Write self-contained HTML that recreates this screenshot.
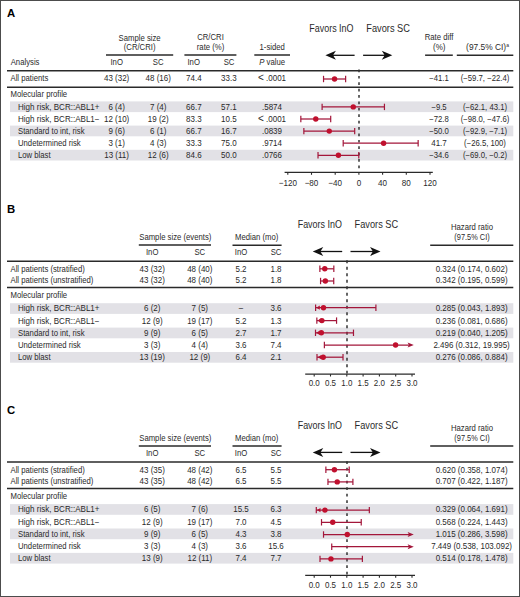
<!DOCTYPE html>
<html><head><meta charset="utf-8"><title>Forest plots</title>
<style>
html,body{margin:0;padding:0;background:#fff;}
.wrap{position:relative;width:520px;height:597px;overflow:hidden;}
svg{position:absolute;left:0;top:0;display:block;font-family:"Liberation Sans", sans-serif;}
.frame{position:absolute;left:0;top:0;width:518px;height:595px;border:1px solid #4c4c4c;}
</style></head><body>
<div class="wrap">
<svg width="520" height="597" viewBox="0 0 520 597">
<text transform="translate(7,16.6) scale(0.97,1)" font-size="11.7" text-anchor="start" font-weight="bold" fill="#000">A</text>
<text transform="translate(139.6,40.5) scale(0.921,1)" font-size="8.4" text-anchor="middle" font-weight="normal" fill="#2a2a2a">Sample size</text>
<text transform="translate(139.6,49.5) scale(0.921,1)" font-size="8.4" text-anchor="middle" font-weight="normal" fill="#2a2a2a">(CR/CRI)</text>
<line x1="106" y1="55" x2="173.2" y2="55" stroke="#2a2a2a" stroke-width="1.5"/>
<text transform="translate(210.5,40.3) scale(0.921,1)" font-size="8.4" text-anchor="middle" font-weight="normal" fill="#2a2a2a">CR/CRI</text>
<text transform="translate(210.5,50) scale(0.921,1)" font-size="8.4" text-anchor="middle" font-weight="normal" fill="#2a2a2a">rate (%)</text>
<line x1="184.4" y1="55" x2="236.4" y2="55" stroke="#2a2a2a" stroke-width="1.5"/>
<text transform="translate(272.2,50) scale(0.921,1)" font-size="8.4" text-anchor="middle" font-weight="normal" fill="#2a2a2a">1-sided</text>
<line x1="254.3" y1="55" x2="290" y2="55" stroke="#2a2a2a" stroke-width="1.5"/>
<text transform="translate(272.2,64.5) scale(0.921,1)" font-size="8.4" text-anchor="middle" font-weight="normal" fill="#2a2a2a"><tspan font-style="italic">P</tspan> value</text>
<text transform="translate(309.3,31.7) scale(0.895,1)" font-size="10" text-anchor="start" font-weight="normal" fill="#2a2a2a">Favors InO</text>
<text transform="translate(366.3,31.7) scale(0.925,1)" font-size="10" text-anchor="start" font-weight="normal" fill="#2a2a2a">Favors SC</text>
<line x1="329.4" y1="55.3" x2="354.6" y2="55.3" stroke="#111" stroke-width="1.3"/>
<path d="M325.4,55.3 L335.9,50.8 L333.0,55.3 L335.9,59.8 Z" fill="#111"/>
<line x1="363.1" y1="55.3" x2="388.3" y2="55.3" stroke="#111" stroke-width="1.3"/>
<path d="M392.3,55.3 L381.8,50.8 L384.7,55.3 L381.8,59.8 Z" fill="#111"/>
<text transform="translate(439,40.1) scale(0.921,1)" font-size="8.4" text-anchor="middle" font-weight="normal" fill="#2a2a2a">Rate diff</text>
<text transform="translate(439.3,49.6) scale(0.952,1)" font-size="8.4" text-anchor="middle" font-weight="normal" fill="#2a2a2a">(%)</text>
<line x1="425.1" y1="55.2" x2="452.8" y2="55.2" stroke="#2a2a2a" stroke-width="1.5"/>
<text transform="translate(487.5,49.6) scale(1.0,1)" font-size="8.4" text-anchor="middle" font-weight="normal" fill="#2a2a2a">(97.5% CI)<tspan font-size="5" dy="-3">a</tspan></text>
<line x1="456.8" y1="55.2" x2="513.3" y2="55.2" stroke="#2a2a2a" stroke-width="1.5"/>
<text transform="translate(10.7,65) scale(0.921,1)" font-size="8.4" text-anchor="start" font-weight="normal" fill="#2a2a2a">Analysis</text>
<text transform="translate(116.7,65) scale(0.921,1)" font-size="8.4" text-anchor="middle" font-weight="normal" fill="#2a2a2a">InO</text>
<text transform="translate(158.2,65) scale(0.921,1)" font-size="8.4" text-anchor="middle" font-weight="normal" fill="#2a2a2a">SC</text>
<text transform="translate(193.7,65) scale(0.921,1)" font-size="8.4" text-anchor="middle" font-weight="normal" fill="#2a2a2a">InO</text>
<text transform="translate(229,65) scale(0.921,1)" font-size="8.4" text-anchor="middle" font-weight="normal" fill="#2a2a2a">SC</text>
<line x1="7" y1="70.75" x2="513.3" y2="70.75" stroke="#2a2a2a" stroke-width="1.5"/>
<text transform="translate(10.5,81.3) scale(0.921,1)" font-size="8.4" text-anchor="start" font-weight="normal" fill="#2a2a2a">All patients</text>
<text transform="translate(116.6,81.3) scale(0.952,1)" font-size="8.4" text-anchor="middle" font-weight="normal" fill="#2a2a2a">43 (32)</text>
<text transform="translate(158.2,81.3) scale(0.952,1)" font-size="8.4" text-anchor="middle" font-weight="normal" fill="#2a2a2a">48 (16)</text>
<text transform="translate(193.8,81.3) scale(0.952,1)" font-size="8.4" text-anchor="middle" font-weight="normal" fill="#2a2a2a">74.4</text>
<text transform="translate(228.8,81.3) scale(0.952,1)" font-size="8.4" text-anchor="middle" font-weight="normal" fill="#2a2a2a">33.3</text>
<text transform="translate(272,81.3) scale(0.952,1)" font-size="8.4" text-anchor="middle" font-weight="normal" fill="#2a2a2a"><tspan font-size="10.5">&lt;</tspan> .0001</text>
<text transform="translate(439,81.3) scale(0.921,1)" font-size="8.4" text-anchor="middle" font-weight="normal" fill="#2a2a2a">−41.1</text>
<text transform="translate(485,81.3) scale(0.921,1)" font-size="8.4" text-anchor="middle" font-weight="normal" fill="#2a2a2a">(−59.7, −22.4)</text>
<line x1="7" y1="87.25" x2="513.3" y2="87.25" stroke="#2a2a2a" stroke-width="1.5"/>
<text transform="translate(10.5,96.5) scale(0.921,1)" font-size="8.4" text-anchor="start" font-weight="normal" fill="#2a2a2a">Molecular profile</text>
<rect x="10" y="101.4" width="503.3" height="10.7" fill="#e2e1e6"/>
<rect x="10" y="125.60000000000001" width="503.3" height="10.7" fill="#e2e1e6"/>
<rect x="10" y="149.8" width="503.3" height="10.7" fill="#e2e1e6"/>
<text transform="translate(18,109.9) scale(0.957,1)" font-size="8.4" text-anchor="start" font-weight="normal" fill="#2a2a2a">High risk, BCR::ABL1+</text>
<text transform="translate(116.6,109.9) scale(0.952,1)" font-size="8.4" text-anchor="middle" font-weight="normal" fill="#2a2a2a">6 (4)</text>
<text transform="translate(158.2,109.9) scale(0.952,1)" font-size="8.4" text-anchor="middle" font-weight="normal" fill="#2a2a2a">7 (4)</text>
<text transform="translate(193.8,109.9) scale(0.952,1)" font-size="8.4" text-anchor="middle" font-weight="normal" fill="#2a2a2a">66.7</text>
<text transform="translate(228.8,109.9) scale(0.952,1)" font-size="8.4" text-anchor="middle" font-weight="normal" fill="#2a2a2a">57.1</text>
<text transform="translate(272,109.9) scale(0.952,1)" font-size="8.4" text-anchor="middle" font-weight="normal" fill="#2a2a2a">.5874</text>
<text transform="translate(439,109.9) scale(0.921,1)" font-size="8.4" text-anchor="middle" font-weight="normal" fill="#2a2a2a">−9.5</text>
<text transform="translate(485,109.9) scale(0.921,1)" font-size="8.4" text-anchor="middle" font-weight="normal" fill="#2a2a2a">(−62.1, 43.1)</text>
<text transform="translate(18,122.0) scale(0.957,1)" font-size="8.4" text-anchor="start" font-weight="normal" fill="#2a2a2a">High risk, BCR::ABL1−</text>
<text transform="translate(116.6,122.0) scale(0.952,1)" font-size="8.4" text-anchor="middle" font-weight="normal" fill="#2a2a2a">12 (10)</text>
<text transform="translate(158.2,122.0) scale(0.952,1)" font-size="8.4" text-anchor="middle" font-weight="normal" fill="#2a2a2a">19 (2)</text>
<text transform="translate(193.8,122.0) scale(0.952,1)" font-size="8.4" text-anchor="middle" font-weight="normal" fill="#2a2a2a">83.3</text>
<text transform="translate(228.8,122.0) scale(0.952,1)" font-size="8.4" text-anchor="middle" font-weight="normal" fill="#2a2a2a">10.5</text>
<text transform="translate(272,122.0) scale(0.952,1)" font-size="8.4" text-anchor="middle" font-weight="normal" fill="#2a2a2a"><tspan font-size="10.5">&lt;</tspan> .0001</text>
<text transform="translate(439,122.0) scale(0.921,1)" font-size="8.4" text-anchor="middle" font-weight="normal" fill="#2a2a2a">−72.8</text>
<text transform="translate(485,122.0) scale(0.921,1)" font-size="8.4" text-anchor="middle" font-weight="normal" fill="#2a2a2a">(−98.0, −47.6)</text>
<text transform="translate(18,134.1) scale(0.921,1)" font-size="8.4" text-anchor="start" font-weight="normal" fill="#2a2a2a">Standard to int, risk</text>
<text transform="translate(116.6,134.1) scale(0.952,1)" font-size="8.4" text-anchor="middle" font-weight="normal" fill="#2a2a2a">9 (6)</text>
<text transform="translate(158.2,134.1) scale(0.952,1)" font-size="8.4" text-anchor="middle" font-weight="normal" fill="#2a2a2a">6 (1)</text>
<text transform="translate(193.8,134.1) scale(0.952,1)" font-size="8.4" text-anchor="middle" font-weight="normal" fill="#2a2a2a">66.7</text>
<text transform="translate(228.8,134.1) scale(0.952,1)" font-size="8.4" text-anchor="middle" font-weight="normal" fill="#2a2a2a">16.7</text>
<text transform="translate(272,134.1) scale(0.952,1)" font-size="8.4" text-anchor="middle" font-weight="normal" fill="#2a2a2a">.0839</text>
<text transform="translate(439,134.1) scale(0.921,1)" font-size="8.4" text-anchor="middle" font-weight="normal" fill="#2a2a2a">−50.0</text>
<text transform="translate(485,134.1) scale(0.921,1)" font-size="8.4" text-anchor="middle" font-weight="normal" fill="#2a2a2a">(−92.9, −7.1)</text>
<text transform="translate(18,146.2) scale(0.921,1)" font-size="8.4" text-anchor="start" font-weight="normal" fill="#2a2a2a">Undetermined risk</text>
<text transform="translate(116.6,146.2) scale(0.952,1)" font-size="8.4" text-anchor="middle" font-weight="normal" fill="#2a2a2a">3 (1)</text>
<text transform="translate(158.2,146.2) scale(0.952,1)" font-size="8.4" text-anchor="middle" font-weight="normal" fill="#2a2a2a">4 (3)</text>
<text transform="translate(193.8,146.2) scale(0.952,1)" font-size="8.4" text-anchor="middle" font-weight="normal" fill="#2a2a2a">33.3</text>
<text transform="translate(228.8,146.2) scale(0.952,1)" font-size="8.4" text-anchor="middle" font-weight="normal" fill="#2a2a2a">75.0</text>
<text transform="translate(272,146.2) scale(0.952,1)" font-size="8.4" text-anchor="middle" font-weight="normal" fill="#2a2a2a">.9714</text>
<text transform="translate(439,146.2) scale(0.952,1)" font-size="8.4" text-anchor="middle" font-weight="normal" fill="#2a2a2a">41.7</text>
<text transform="translate(485,146.2) scale(0.921,1)" font-size="8.4" text-anchor="middle" font-weight="normal" fill="#2a2a2a">(−26.5, 100)</text>
<text transform="translate(18,158.3) scale(0.921,1)" font-size="8.4" text-anchor="start" font-weight="normal" fill="#2a2a2a">Low blast</text>
<text transform="translate(116.6,158.3) scale(0.952,1)" font-size="8.4" text-anchor="middle" font-weight="normal" fill="#2a2a2a">13 (11)</text>
<text transform="translate(158.2,158.3) scale(0.952,1)" font-size="8.4" text-anchor="middle" font-weight="normal" fill="#2a2a2a">12 (6)</text>
<text transform="translate(193.8,158.3) scale(0.952,1)" font-size="8.4" text-anchor="middle" font-weight="normal" fill="#2a2a2a">84.6</text>
<text transform="translate(228.8,158.3) scale(0.952,1)" font-size="8.4" text-anchor="middle" font-weight="normal" fill="#2a2a2a">50.0</text>
<text transform="translate(272,158.3) scale(0.952,1)" font-size="8.4" text-anchor="middle" font-weight="normal" fill="#2a2a2a">.0766</text>
<text transform="translate(439,158.3) scale(0.921,1)" font-size="8.4" text-anchor="middle" font-weight="normal" fill="#2a2a2a">−34.6</text>
<text transform="translate(485,158.3) scale(0.921,1)" font-size="8.4" text-anchor="middle" font-weight="normal" fill="#2a2a2a">(−69.0, −0.2)</text>
<line x1="359.0" y1="69.5" x2="359.0" y2="172" stroke="#333" stroke-width="1.5" stroke-dasharray="2.7,3.7"/>
<line x1="323.53" y1="79" x2="345.63" y2="79" stroke="#a3163a" stroke-width="1.25"/>
<line x1="323.53" y1="75.8" x2="323.53" y2="82.2" stroke="#a3163a" stroke-width="1.2"/>
<line x1="345.63" y1="75.8" x2="345.63" y2="82.2" stroke="#a3163a" stroke-width="1.2"/>
<circle cx="334.55" cy="79.00" r="2.7" fill="#c0102e"/>
<line x1="322.11" y1="106.9" x2="384.44" y2="106.9" stroke="#a3163a" stroke-width="1.25"/>
<line x1="322.11" y1="103.7" x2="322.11" y2="110.10000000000001" stroke="#a3163a" stroke-width="1.2"/>
<line x1="384.44" y1="103.7" x2="384.44" y2="110.10000000000001" stroke="#a3163a" stroke-width="1.2"/>
<circle cx="353.27" cy="106.90" r="2.7" fill="#c0102e"/>
<line x1="300.83" y1="119.0" x2="330.70" y2="119.0" stroke="#a3163a" stroke-width="1.25"/>
<line x1="300.83" y1="115.8" x2="300.83" y2="122.2" stroke="#a3163a" stroke-width="1.2"/>
<line x1="330.70" y1="115.8" x2="330.70" y2="122.2" stroke="#a3163a" stroke-width="1.2"/>
<circle cx="315.77" cy="119.00" r="2.7" fill="#c0102e"/>
<line x1="303.86" y1="131.1" x2="354.69" y2="131.1" stroke="#a3163a" stroke-width="1.25"/>
<line x1="303.86" y1="127.89999999999999" x2="303.86" y2="134.29999999999998" stroke="#a3163a" stroke-width="1.2"/>
<line x1="354.69" y1="127.89999999999999" x2="354.69" y2="134.29999999999998" stroke="#a3163a" stroke-width="1.2"/>
<circle cx="329.27" cy="131.10" r="2.7" fill="#c0102e"/>
<line x1="343.20" y1="143.2" x2="418.15" y2="143.2" stroke="#a3163a" stroke-width="1.25"/>
<line x1="343.20" y1="140.0" x2="343.20" y2="146.39999999999998" stroke="#a3163a" stroke-width="1.2"/>
<line x1="418.15" y1="140.0" x2="418.15" y2="146.39999999999998" stroke="#a3163a" stroke-width="1.2"/>
<circle cx="383.61" cy="143.20" r="2.7" fill="#c0102e"/>
<line x1="318.02" y1="155.3" x2="358.78" y2="155.3" stroke="#a3163a" stroke-width="1.25"/>
<line x1="318.02" y1="152.10000000000002" x2="318.02" y2="158.5" stroke="#a3163a" stroke-width="1.2"/>
<line x1="358.78" y1="152.10000000000002" x2="358.78" y2="158.5" stroke="#a3163a" stroke-width="1.2"/>
<circle cx="338.40" cy="155.30" r="2.7" fill="#c0102e"/>
<line x1="284.6" y1="172.4" x2="432.8" y2="172.4" stroke="#2a2a2a" stroke-width="1.2"/>
<line x1="287.80" y1="172.4" x2="287.80" y2="174.8" stroke="#2a2a2a" stroke-width="1.1"/>
<text transform="translate(287.80,185.6) scale(0.9,1)" font-size="9" text-anchor="middle" font-weight="normal" fill="#2a2a2a">−120</text>
<line x1="311.50" y1="172.4" x2="311.50" y2="174.8" stroke="#2a2a2a" stroke-width="1.1"/>
<text transform="translate(311.50,185.6) scale(0.9,1)" font-size="9" text-anchor="middle" font-weight="normal" fill="#2a2a2a">−80</text>
<line x1="335.20" y1="172.4" x2="335.20" y2="174.8" stroke="#2a2a2a" stroke-width="1.1"/>
<text transform="translate(335.20,185.6) scale(0.9,1)" font-size="9" text-anchor="middle" font-weight="normal" fill="#2a2a2a">−40</text>
<line x1="358.90" y1="172.4" x2="358.90" y2="174.8" stroke="#2a2a2a" stroke-width="1.1"/>
<text transform="translate(358.90,185.6) scale(0.9,1)" font-size="9" text-anchor="middle" font-weight="normal" fill="#2a2a2a">0</text>
<line x1="382.60" y1="172.4" x2="382.60" y2="174.8" stroke="#2a2a2a" stroke-width="1.1"/>
<text transform="translate(382.60,185.6) scale(0.9,1)" font-size="9" text-anchor="middle" font-weight="normal" fill="#2a2a2a">40</text>
<line x1="406.30" y1="172.4" x2="406.30" y2="174.8" stroke="#2a2a2a" stroke-width="1.1"/>
<text transform="translate(406.30,185.6) scale(0.9,1)" font-size="9" text-anchor="middle" font-weight="normal" fill="#2a2a2a">80</text>
<line x1="430.00" y1="172.4" x2="430.00" y2="174.8" stroke="#2a2a2a" stroke-width="1.1"/>
<text transform="translate(430.00,185.6) scale(0.9,1)" font-size="9" text-anchor="middle" font-weight="normal" fill="#2a2a2a">120</text>
<text transform="translate(7,213.2) scale(0.97,1)" font-size="11.7" text-anchor="start" font-weight="bold" fill="#000">B</text>
<text transform="translate(175.3,240.0) scale(0.921,1)" font-size="8.4" text-anchor="middle" font-weight="normal" fill="#2a2a2a">Sample size (events)</text>
<line x1="138.8" y1="245.1" x2="211" y2="245.1" stroke="#2a2a2a" stroke-width="1.5"/>
<text transform="translate(256.7,240.3) scale(0.921,1)" font-size="8.4" text-anchor="middle" font-weight="normal" fill="#2a2a2a">Median (mo)</text>
<line x1="232.5" y1="245.2" x2="281.6" y2="245.2" stroke="#2a2a2a" stroke-width="1.5"/>
<text transform="translate(297.7,227.7) scale(0.895,1)" font-size="10" text-anchor="start" font-weight="normal" fill="#2a2a2a">Favors InO</text>
<text transform="translate(354.5,227.7) scale(0.925,1)" font-size="10" text-anchor="start" font-weight="normal" fill="#2a2a2a">Favors SC</text>
<line x1="316.75" y1="251.5" x2="342.2" y2="251.5" stroke="#111" stroke-width="1.3"/>
<path d="M312.75,251.5 L323.25,247.0 L320.35,251.5 L323.25,256.0 Z" fill="#111"/>
<line x1="350.5" y1="251.5" x2="376.5" y2="251.5" stroke="#111" stroke-width="1.3"/>
<path d="M380.5,251.5 L370.0,247.0 L372.9,251.5 L370.0,256.0 Z" fill="#111"/>
<text transform="translate(472,229.6) scale(0.921,1)" font-size="8.4" text-anchor="middle" font-weight="normal" fill="#2a2a2a">Hazard ratio</text>
<text transform="translate(472,240.1) scale(0.88,1)" font-size="8.4" text-anchor="middle" font-weight="normal" fill="#2a2a2a">(97.5% CI)</text>
<line x1="430.2" y1="245.2" x2="513.3" y2="245.2" stroke="#2a2a2a" stroke-width="1.5"/>
<text transform="translate(152.2,255.1) scale(0.921,1)" font-size="8.4" text-anchor="middle" font-weight="normal" fill="#2a2a2a">InO</text>
<text transform="translate(199.8,255.1) scale(0.921,1)" font-size="8.4" text-anchor="middle" font-weight="normal" fill="#2a2a2a">SC</text>
<text transform="translate(241,255.1) scale(0.921,1)" font-size="8.4" text-anchor="middle" font-weight="normal" fill="#2a2a2a">InO</text>
<text transform="translate(276,255.1) scale(0.921,1)" font-size="8.4" text-anchor="middle" font-weight="normal" fill="#2a2a2a">SC</text>
<line x1="7" y1="261.2" x2="513.3" y2="261.2" stroke="#2a2a2a" stroke-width="1.5"/>
<text transform="translate(10.5,271.6) scale(0.921,1)" font-size="8.4" text-anchor="start" font-weight="normal" fill="#2a2a2a">All patients (stratified)</text>
<text transform="translate(152.2,271.6) scale(0.952,1)" font-size="8.4" text-anchor="middle" font-weight="normal" fill="#2a2a2a">43 (32)</text>
<text transform="translate(199.8,271.6) scale(0.952,1)" font-size="8.4" text-anchor="middle" font-weight="normal" fill="#2a2a2a">48 (40)</text>
<text transform="translate(241,271.6) scale(0.952,1)" font-size="8.4" text-anchor="middle" font-weight="normal" fill="#2a2a2a">5.2</text>
<text transform="translate(276,271.6) scale(0.952,1)" font-size="8.4" text-anchor="middle" font-weight="normal" fill="#2a2a2a">1.8</text>
<text transform="translate(471.6,271.6) scale(0.952,1)" font-size="8.4" text-anchor="middle" font-weight="normal" fill="#2a2a2a">0.324 (0.174, 0.602)</text>
<text transform="translate(10.5,283.3) scale(0.921,1)" font-size="8.4" text-anchor="start" font-weight="normal" fill="#2a2a2a">All patients (unstratified)</text>
<text transform="translate(152.2,283.3) scale(0.952,1)" font-size="8.4" text-anchor="middle" font-weight="normal" fill="#2a2a2a">43 (32)</text>
<text transform="translate(199.8,283.3) scale(0.952,1)" font-size="8.4" text-anchor="middle" font-weight="normal" fill="#2a2a2a">48 (40)</text>
<text transform="translate(241,283.3) scale(0.952,1)" font-size="8.4" text-anchor="middle" font-weight="normal" fill="#2a2a2a">5.2</text>
<text transform="translate(276,283.3) scale(0.952,1)" font-size="8.4" text-anchor="middle" font-weight="normal" fill="#2a2a2a">1.8</text>
<text transform="translate(471.6,283.3) scale(0.952,1)" font-size="8.4" text-anchor="middle" font-weight="normal" fill="#2a2a2a">0.342 (0.195, 0.599)</text>
<line x1="7" y1="287.5" x2="513.3" y2="287.5" stroke="#2a2a2a" stroke-width="1.5"/>
<text transform="translate(10.5,298.4) scale(0.921,1)" font-size="8.4" text-anchor="start" font-weight="normal" fill="#2a2a2a">Molecular profile</text>
<rect x="10" y="303.2" width="503.3" height="10.7" fill="#e2e1e6"/>
<rect x="10" y="327.59999999999997" width="503.3" height="10.7" fill="#e2e1e6"/>
<rect x="10" y="352.0" width="503.3" height="10.7" fill="#e2e1e6"/>
<text transform="translate(18,311.4) scale(0.957,1)" font-size="8.4" text-anchor="start" font-weight="normal" fill="#2a2a2a">High risk, BCR::ABL1+</text>
<text transform="translate(152.2,311.4) scale(0.952,1)" font-size="8.4" text-anchor="middle" font-weight="normal" fill="#2a2a2a">6 (2)</text>
<text transform="translate(199.8,311.4) scale(0.952,1)" font-size="8.4" text-anchor="middle" font-weight="normal" fill="#2a2a2a">7 (5)</text>
<text transform="translate(241,311.4) scale(0.921,1)" font-size="8.4" text-anchor="middle" font-weight="normal" fill="#2a2a2a">–</text>
<text transform="translate(276,311.4) scale(0.952,1)" font-size="8.4" text-anchor="middle" font-weight="normal" fill="#2a2a2a">3.6</text>
<text transform="translate(471.6,311.4) scale(0.952,1)" font-size="8.4" text-anchor="middle" font-weight="normal" fill="#2a2a2a">0.285 (0.043, 1.893)</text>
<text transform="translate(18,323.59999999999997) scale(0.957,1)" font-size="8.4" text-anchor="start" font-weight="normal" fill="#2a2a2a">High risk, BCR::ABL1−</text>
<text transform="translate(152.2,323.59999999999997) scale(0.952,1)" font-size="8.4" text-anchor="middle" font-weight="normal" fill="#2a2a2a">12 (9)</text>
<text transform="translate(199.8,323.59999999999997) scale(0.952,1)" font-size="8.4" text-anchor="middle" font-weight="normal" fill="#2a2a2a">19 (17)</text>
<text transform="translate(241,323.59999999999997) scale(0.952,1)" font-size="8.4" text-anchor="middle" font-weight="normal" fill="#2a2a2a">5.2</text>
<text transform="translate(276,323.59999999999997) scale(0.952,1)" font-size="8.4" text-anchor="middle" font-weight="normal" fill="#2a2a2a">1.3</text>
<text transform="translate(471.6,323.59999999999997) scale(0.952,1)" font-size="8.4" text-anchor="middle" font-weight="normal" fill="#2a2a2a">0.236 (0.081, 0.686)</text>
<text transform="translate(18,335.79999999999995) scale(0.921,1)" font-size="8.4" text-anchor="start" font-weight="normal" fill="#2a2a2a">Standard to int, risk</text>
<text transform="translate(152.2,335.79999999999995) scale(0.952,1)" font-size="8.4" text-anchor="middle" font-weight="normal" fill="#2a2a2a">9 (9)</text>
<text transform="translate(199.8,335.79999999999995) scale(0.952,1)" font-size="8.4" text-anchor="middle" font-weight="normal" fill="#2a2a2a">6 (5)</text>
<text transform="translate(241,335.79999999999995) scale(0.952,1)" font-size="8.4" text-anchor="middle" font-weight="normal" fill="#2a2a2a">2.7</text>
<text transform="translate(276,335.79999999999995) scale(0.952,1)" font-size="8.4" text-anchor="middle" font-weight="normal" fill="#2a2a2a">1.7</text>
<text transform="translate(471.6,335.79999999999995) scale(0.952,1)" font-size="8.4" text-anchor="middle" font-weight="normal" fill="#2a2a2a">0.219 (0.040, 1.205)</text>
<text transform="translate(18,348.0) scale(0.921,1)" font-size="8.4" text-anchor="start" font-weight="normal" fill="#2a2a2a">Undetermined risk</text>
<text transform="translate(152.2,348.0) scale(0.952,1)" font-size="8.4" text-anchor="middle" font-weight="normal" fill="#2a2a2a">3 (3)</text>
<text transform="translate(199.8,348.0) scale(0.952,1)" font-size="8.4" text-anchor="middle" font-weight="normal" fill="#2a2a2a">4 (4)</text>
<text transform="translate(241,348.0) scale(0.952,1)" font-size="8.4" text-anchor="middle" font-weight="normal" fill="#2a2a2a">3.6</text>
<text transform="translate(276,348.0) scale(0.952,1)" font-size="8.4" text-anchor="middle" font-weight="normal" fill="#2a2a2a">7.4</text>
<text transform="translate(471.6,348.0) scale(0.952,1)" font-size="8.4" text-anchor="middle" font-weight="normal" fill="#2a2a2a">2.496 (0.312, 19.995)</text>
<text transform="translate(18,360.2) scale(0.921,1)" font-size="8.4" text-anchor="start" font-weight="normal" fill="#2a2a2a">Low blast</text>
<text transform="translate(152.2,360.2) scale(0.952,1)" font-size="8.4" text-anchor="middle" font-weight="normal" fill="#2a2a2a">13 (19)</text>
<text transform="translate(199.8,360.2) scale(0.952,1)" font-size="8.4" text-anchor="middle" font-weight="normal" fill="#2a2a2a">12 (9)</text>
<text transform="translate(241,360.2) scale(0.952,1)" font-size="8.4" text-anchor="middle" font-weight="normal" fill="#2a2a2a">6.4</text>
<text transform="translate(276,360.2) scale(0.952,1)" font-size="8.4" text-anchor="middle" font-weight="normal" fill="#2a2a2a">2.1</text>
<text transform="translate(471.6,360.2) scale(0.952,1)" font-size="8.4" text-anchor="middle" font-weight="normal" fill="#2a2a2a">0.276 (0.086, 0.884)</text>
<line x1="347.0" y1="260.3" x2="347.0" y2="373.5" stroke="#333" stroke-width="1.5" stroke-dasharray="2.9,3.6"/>
<line x1="319.87" y1="268.8" x2="333.83" y2="268.8" stroke="#a3163a" stroke-width="1.25"/>
<line x1="319.87" y1="265.6" x2="319.87" y2="272.0" stroke="#a3163a" stroke-width="1.2"/>
<line x1="333.83" y1="265.6" x2="333.83" y2="272.0" stroke="#a3163a" stroke-width="1.2"/>
<circle cx="324.76" cy="268.80" r="2.7" fill="#c0102e"/>
<line x1="320.56" y1="281.0" x2="333.73" y2="281.0" stroke="#a3163a" stroke-width="1.25"/>
<line x1="320.56" y1="277.8" x2="320.56" y2="284.2" stroke="#a3163a" stroke-width="1.2"/>
<line x1="333.73" y1="277.8" x2="333.73" y2="284.2" stroke="#a3163a" stroke-width="1.2"/>
<circle cx="325.35" cy="281.00" r="2.7" fill="#c0102e"/>
<path d="M316.20,307.7 L319.80,305.59999999999997 L319.80,309.8 Z" fill="#c0102e"/>
<line x1="315.60" y1="307.7" x2="375.91" y2="307.7" stroke="#a3163a" stroke-width="1.25"/>
<line x1="315.60" y1="304.5" x2="315.60" y2="310.9" stroke="#a3163a" stroke-width="1.2"/>
<line x1="375.91" y1="304.5" x2="375.91" y2="310.9" stroke="#a3163a" stroke-width="1.2"/>
<circle cx="323.49" cy="307.70" r="2.7" fill="#c0102e"/>
<path d="M317.44,320.59999999999997 L321.04,318.49999999999994 L321.04,322.7 Z" fill="#c0102e"/>
<line x1="316.84" y1="320.59999999999997" x2="336.56" y2="320.59999999999997" stroke="#a3163a" stroke-width="1.25"/>
<line x1="316.84" y1="317.4" x2="316.84" y2="323.79999999999995" stroke="#a3163a" stroke-width="1.2"/>
<line x1="336.56" y1="317.4" x2="336.56" y2="323.79999999999995" stroke="#a3163a" stroke-width="1.2"/>
<circle cx="321.89" cy="320.60" r="2.7" fill="#c0102e"/>
<path d="M316.10,332.79999999999995 L319.70,330.69999999999993 L319.70,334.9 Z" fill="#c0102e"/>
<line x1="315.50" y1="332.79999999999995" x2="353.48" y2="332.79999999999995" stroke="#a3163a" stroke-width="1.25"/>
<line x1="315.50" y1="329.59999999999997" x2="315.50" y2="335.99999999999994" stroke="#a3163a" stroke-width="1.2"/>
<line x1="353.48" y1="329.59999999999997" x2="353.48" y2="335.99999999999994" stroke="#a3163a" stroke-width="1.2"/>
<circle cx="321.34" cy="332.80" r="2.7" fill="#c0102e"/>
<line x1="324.37" y1="345.0" x2="410.80" y2="345.0" stroke="#a3163a" stroke-width="1.25"/>
<line x1="324.37" y1="341.8" x2="324.37" y2="348.2" stroke="#a3163a" stroke-width="1.2"/>
<path d="M413.80,345.0 L407.60,342.5 L409.00,345.0 L407.60,347.5 Z" fill="#a3163a"/>
<circle cx="395.57" cy="345.00" r="2.7" fill="#c0102e"/>
<path d="M317.60,357.2 L321.20,355.09999999999997 L321.20,359.3 Z" fill="#c0102e"/>
<line x1="317.00" y1="357.2" x2="343.02" y2="357.2" stroke="#a3163a" stroke-width="1.25"/>
<line x1="317.00" y1="354.0" x2="317.00" y2="360.4" stroke="#a3163a" stroke-width="1.2"/>
<line x1="343.02" y1="354.0" x2="343.02" y2="360.4" stroke="#a3163a" stroke-width="1.2"/>
<circle cx="323.20" cy="357.20" r="2.7" fill="#c0102e"/>
<line x1="305.2" y1="374.2" x2="415" y2="374.2" stroke="#2a2a2a" stroke-width="1.2"/>
<line x1="314.20" y1="374.2" x2="314.20" y2="376.5" stroke="#2a2a2a" stroke-width="1.1"/>
<text transform="translate(314.20,386.4) scale(0.952,1)" font-size="8.4" text-anchor="middle" font-weight="normal" fill="#2a2a2a">0.0</text>
<line x1="330.50" y1="374.2" x2="330.50" y2="376.5" stroke="#2a2a2a" stroke-width="1.1"/>
<text transform="translate(330.50,386.4) scale(0.952,1)" font-size="8.4" text-anchor="middle" font-weight="normal" fill="#2a2a2a">0.5</text>
<line x1="346.80" y1="374.2" x2="346.80" y2="376.5" stroke="#2a2a2a" stroke-width="1.1"/>
<text transform="translate(346.80,386.4) scale(0.952,1)" font-size="8.4" text-anchor="middle" font-weight="normal" fill="#2a2a2a">1.0</text>
<line x1="363.10" y1="374.2" x2="363.10" y2="376.5" stroke="#2a2a2a" stroke-width="1.1"/>
<text transform="translate(363.10,386.4) scale(0.952,1)" font-size="8.4" text-anchor="middle" font-weight="normal" fill="#2a2a2a">1.5</text>
<line x1="379.40" y1="374.2" x2="379.40" y2="376.5" stroke="#2a2a2a" stroke-width="1.1"/>
<text transform="translate(379.40,386.4) scale(0.952,1)" font-size="8.4" text-anchor="middle" font-weight="normal" fill="#2a2a2a">2.0</text>
<line x1="395.70" y1="374.2" x2="395.70" y2="376.5" stroke="#2a2a2a" stroke-width="1.1"/>
<text transform="translate(395.70,386.4) scale(0.952,1)" font-size="8.4" text-anchor="middle" font-weight="normal" fill="#2a2a2a">2.5</text>
<line x1="412.00" y1="374.2" x2="412.00" y2="376.5" stroke="#2a2a2a" stroke-width="1.1"/>
<text transform="translate(412.00,386.4) scale(0.952,1)" font-size="8.4" text-anchor="middle" font-weight="normal" fill="#2a2a2a">3.0</text>
<text transform="translate(7,414.1) scale(0.97,1)" font-size="11.7" text-anchor="start" font-weight="bold" fill="#000">C</text>
<text transform="translate(175.3,440.9) scale(0.921,1)" font-size="8.4" text-anchor="middle" font-weight="normal" fill="#2a2a2a">Sample size (events)</text>
<line x1="138.8" y1="446.0" x2="211" y2="446.0" stroke="#2a2a2a" stroke-width="1.5"/>
<text transform="translate(256.7,441.20000000000005) scale(0.921,1)" font-size="8.4" text-anchor="middle" font-weight="normal" fill="#2a2a2a">Median (mo)</text>
<line x1="232.5" y1="446.1" x2="281.6" y2="446.1" stroke="#2a2a2a" stroke-width="1.5"/>
<text transform="translate(297.7,428.6) scale(0.895,1)" font-size="10" text-anchor="start" font-weight="normal" fill="#2a2a2a">Favors InO</text>
<text transform="translate(354.5,428.6) scale(0.925,1)" font-size="10" text-anchor="start" font-weight="normal" fill="#2a2a2a">Favors SC</text>
<line x1="316.75" y1="452.4" x2="342.2" y2="452.4" stroke="#111" stroke-width="1.3"/>
<path d="M312.75,452.4 L323.25,447.9 L320.35,452.4 L323.25,456.9 Z" fill="#111"/>
<line x1="350.5" y1="452.4" x2="376.5" y2="452.4" stroke="#111" stroke-width="1.3"/>
<path d="M380.5,452.4 L370.0,447.9 L372.9,452.4 L370.0,456.9 Z" fill="#111"/>
<text transform="translate(472,430.5) scale(0.921,1)" font-size="8.4" text-anchor="middle" font-weight="normal" fill="#2a2a2a">Hazard ratio</text>
<text transform="translate(472,441.0) scale(0.88,1)" font-size="8.4" text-anchor="middle" font-weight="normal" fill="#2a2a2a">(97.5% CI)</text>
<line x1="430.2" y1="446.1" x2="513.3" y2="446.1" stroke="#2a2a2a" stroke-width="1.5"/>
<text transform="translate(152.2,456.0) scale(0.921,1)" font-size="8.4" text-anchor="middle" font-weight="normal" fill="#2a2a2a">InO</text>
<text transform="translate(199.8,456.0) scale(0.921,1)" font-size="8.4" text-anchor="middle" font-weight="normal" fill="#2a2a2a">SC</text>
<text transform="translate(241,456.0) scale(0.921,1)" font-size="8.4" text-anchor="middle" font-weight="normal" fill="#2a2a2a">InO</text>
<text transform="translate(276,456.0) scale(0.921,1)" font-size="8.4" text-anchor="middle" font-weight="normal" fill="#2a2a2a">SC</text>
<line x1="7" y1="462.1" x2="513.3" y2="462.1" stroke="#2a2a2a" stroke-width="1.5"/>
<text transform="translate(10.5,472.5) scale(0.921,1)" font-size="8.4" text-anchor="start" font-weight="normal" fill="#2a2a2a">All patients (stratified)</text>
<text transform="translate(152.2,472.5) scale(0.952,1)" font-size="8.4" text-anchor="middle" font-weight="normal" fill="#2a2a2a">43 (35)</text>
<text transform="translate(199.8,472.5) scale(0.952,1)" font-size="8.4" text-anchor="middle" font-weight="normal" fill="#2a2a2a">48 (42)</text>
<text transform="translate(241,472.5) scale(0.952,1)" font-size="8.4" text-anchor="middle" font-weight="normal" fill="#2a2a2a">6.5</text>
<text transform="translate(276,472.5) scale(0.952,1)" font-size="8.4" text-anchor="middle" font-weight="normal" fill="#2a2a2a">5.5</text>
<text transform="translate(471.6,472.5) scale(0.952,1)" font-size="8.4" text-anchor="middle" font-weight="normal" fill="#2a2a2a">0.620 (0.358, 1.074)</text>
<text transform="translate(10.5,484.20000000000005) scale(0.921,1)" font-size="8.4" text-anchor="start" font-weight="normal" fill="#2a2a2a">All patients (unstratified)</text>
<text transform="translate(152.2,484.20000000000005) scale(0.952,1)" font-size="8.4" text-anchor="middle" font-weight="normal" fill="#2a2a2a">43 (35)</text>
<text transform="translate(199.8,484.20000000000005) scale(0.952,1)" font-size="8.4" text-anchor="middle" font-weight="normal" fill="#2a2a2a">48 (42)</text>
<text transform="translate(241,484.20000000000005) scale(0.952,1)" font-size="8.4" text-anchor="middle" font-weight="normal" fill="#2a2a2a">6.5</text>
<text transform="translate(276,484.20000000000005) scale(0.952,1)" font-size="8.4" text-anchor="middle" font-weight="normal" fill="#2a2a2a">5.5</text>
<text transform="translate(471.6,484.20000000000005) scale(0.952,1)" font-size="8.4" text-anchor="middle" font-weight="normal" fill="#2a2a2a">0.707 (0.422, 1.187)</text>
<line x1="7" y1="488.4" x2="513.3" y2="488.4" stroke="#2a2a2a" stroke-width="1.5"/>
<text transform="translate(10.5,499.29999999999995) scale(0.921,1)" font-size="8.4" text-anchor="start" font-weight="normal" fill="#2a2a2a">Molecular profile</text>
<rect x="10" y="504.1" width="503.3" height="10.7" fill="#e2e1e6"/>
<rect x="10" y="528.5" width="503.3" height="10.7" fill="#e2e1e6"/>
<rect x="10" y="552.9" width="503.3" height="10.7" fill="#e2e1e6"/>
<text transform="translate(18,512.3) scale(0.957,1)" font-size="8.4" text-anchor="start" font-weight="normal" fill="#2a2a2a">High risk, BCR::ABL1+</text>
<text transform="translate(152.2,512.3) scale(0.952,1)" font-size="8.4" text-anchor="middle" font-weight="normal" fill="#2a2a2a">6 (5)</text>
<text transform="translate(199.8,512.3) scale(0.952,1)" font-size="8.4" text-anchor="middle" font-weight="normal" fill="#2a2a2a">7 (6)</text>
<text transform="translate(241,512.3) scale(0.952,1)" font-size="8.4" text-anchor="middle" font-weight="normal" fill="#2a2a2a">15.5</text>
<text transform="translate(276,512.3) scale(0.952,1)" font-size="8.4" text-anchor="middle" font-weight="normal" fill="#2a2a2a">6.3</text>
<text transform="translate(471.6,512.3) scale(0.952,1)" font-size="8.4" text-anchor="middle" font-weight="normal" fill="#2a2a2a">0.329 (0.064, 1.691)</text>
<text transform="translate(18,524.5) scale(0.957,1)" font-size="8.4" text-anchor="start" font-weight="normal" fill="#2a2a2a">High risk, BCR::ABL1−</text>
<text transform="translate(152.2,524.5) scale(0.952,1)" font-size="8.4" text-anchor="middle" font-weight="normal" fill="#2a2a2a">12 (9)</text>
<text transform="translate(199.8,524.5) scale(0.952,1)" font-size="8.4" text-anchor="middle" font-weight="normal" fill="#2a2a2a">19 (17)</text>
<text transform="translate(241,524.5) scale(0.952,1)" font-size="8.4" text-anchor="middle" font-weight="normal" fill="#2a2a2a">7.0</text>
<text transform="translate(276,524.5) scale(0.952,1)" font-size="8.4" text-anchor="middle" font-weight="normal" fill="#2a2a2a">4.5</text>
<text transform="translate(471.6,524.5) scale(0.952,1)" font-size="8.4" text-anchor="middle" font-weight="normal" fill="#2a2a2a">0.568 (0.224, 1.443)</text>
<text transform="translate(18,536.6999999999999) scale(0.921,1)" font-size="8.4" text-anchor="start" font-weight="normal" fill="#2a2a2a">Standard to int, risk</text>
<text transform="translate(152.2,536.6999999999999) scale(0.952,1)" font-size="8.4" text-anchor="middle" font-weight="normal" fill="#2a2a2a">9 (9)</text>
<text transform="translate(199.8,536.6999999999999) scale(0.952,1)" font-size="8.4" text-anchor="middle" font-weight="normal" fill="#2a2a2a">6 (5)</text>
<text transform="translate(241,536.6999999999999) scale(0.952,1)" font-size="8.4" text-anchor="middle" font-weight="normal" fill="#2a2a2a">4.3</text>
<text transform="translate(276,536.6999999999999) scale(0.952,1)" font-size="8.4" text-anchor="middle" font-weight="normal" fill="#2a2a2a">3.8</text>
<text transform="translate(471.6,536.6999999999999) scale(0.952,1)" font-size="8.4" text-anchor="middle" font-weight="normal" fill="#2a2a2a">1.015 (0.286, 3.598)</text>
<text transform="translate(18,548.9) scale(0.921,1)" font-size="8.4" text-anchor="start" font-weight="normal" fill="#2a2a2a">Undetermined risk</text>
<text transform="translate(152.2,548.9) scale(0.952,1)" font-size="8.4" text-anchor="middle" font-weight="normal" fill="#2a2a2a">3 (3)</text>
<text transform="translate(199.8,548.9) scale(0.952,1)" font-size="8.4" text-anchor="middle" font-weight="normal" fill="#2a2a2a">4 (3)</text>
<text transform="translate(241,548.9) scale(0.952,1)" font-size="8.4" text-anchor="middle" font-weight="normal" fill="#2a2a2a">3.6</text>
<text transform="translate(276,548.9) scale(0.952,1)" font-size="8.4" text-anchor="middle" font-weight="normal" fill="#2a2a2a">15.6</text>
<text transform="translate(471.6,548.9) scale(0.952,1)" font-size="8.4" text-anchor="middle" font-weight="normal" fill="#2a2a2a">7.449 (0.538, 103.092)</text>
<text transform="translate(18,561.1) scale(0.921,1)" font-size="8.4" text-anchor="start" font-weight="normal" fill="#2a2a2a">Low blast</text>
<text transform="translate(152.2,561.1) scale(0.952,1)" font-size="8.4" text-anchor="middle" font-weight="normal" fill="#2a2a2a">13 (9)</text>
<text transform="translate(199.8,561.1) scale(0.952,1)" font-size="8.4" text-anchor="middle" font-weight="normal" fill="#2a2a2a">12 (11)</text>
<text transform="translate(241,561.1) scale(0.952,1)" font-size="8.4" text-anchor="middle" font-weight="normal" fill="#2a2a2a">7.4</text>
<text transform="translate(276,561.1) scale(0.952,1)" font-size="8.4" text-anchor="middle" font-weight="normal" fill="#2a2a2a">7.7</text>
<text transform="translate(471.6,561.1) scale(0.952,1)" font-size="8.4" text-anchor="middle" font-weight="normal" fill="#2a2a2a">0.514 (0.178, 1.478)</text>
<line x1="347.0" y1="461.20000000000005" x2="347.0" y2="574.4" stroke="#333" stroke-width="1.5" stroke-dasharray="2.9,3.6"/>
<line x1="325.87" y1="469.70000000000005" x2="349.21" y2="469.70000000000005" stroke="#a3163a" stroke-width="1.25"/>
<line x1="325.87" y1="466.50000000000006" x2="325.87" y2="472.90000000000003" stroke="#a3163a" stroke-width="1.2"/>
<line x1="349.21" y1="466.50000000000006" x2="349.21" y2="472.90000000000003" stroke="#a3163a" stroke-width="1.2"/>
<circle cx="334.41" cy="469.70" r="2.7" fill="#c0102e"/>
<line x1="327.96" y1="481.9" x2="352.90" y2="481.9" stroke="#a3163a" stroke-width="1.25"/>
<line x1="327.96" y1="478.7" x2="327.96" y2="485.09999999999997" stroke="#a3163a" stroke-width="1.2"/>
<line x1="352.90" y1="478.7" x2="352.90" y2="485.09999999999997" stroke="#a3163a" stroke-width="1.2"/>
<circle cx="337.25" cy="481.90" r="2.7" fill="#c0102e"/>
<path d="M316.89,510.09999999999997 L320.49,507.99999999999994 L320.49,512.1999999999999 Z" fill="#c0102e"/>
<line x1="316.29" y1="510.09999999999997" x2="369.33" y2="510.09999999999997" stroke="#a3163a" stroke-width="1.25"/>
<line x1="316.29" y1="506.9" x2="316.29" y2="513.3" stroke="#a3163a" stroke-width="1.2"/>
<line x1="369.33" y1="506.9" x2="369.33" y2="513.3" stroke="#a3163a" stroke-width="1.2"/>
<circle cx="324.93" cy="510.10" r="2.7" fill="#c0102e"/>
<line x1="321.50" y1="522.3" x2="361.24" y2="522.3" stroke="#a3163a" stroke-width="1.25"/>
<line x1="321.50" y1="519.0999999999999" x2="321.50" y2="525.5" stroke="#a3163a" stroke-width="1.2"/>
<line x1="361.24" y1="519.0999999999999" x2="361.24" y2="525.5" stroke="#a3163a" stroke-width="1.2"/>
<circle cx="332.72" cy="522.30" r="2.7" fill="#c0102e"/>
<line x1="323.52" y1="534.4999999999999" x2="410.80" y2="534.4999999999999" stroke="#a3163a" stroke-width="1.25"/>
<line x1="323.52" y1="531.2999999999998" x2="323.52" y2="537.6999999999999" stroke="#a3163a" stroke-width="1.2"/>
<path d="M413.80,534.4999999999999 L407.60,531.9999999999999 L409.00,534.4999999999999 L407.60,536.9999999999999 Z" fill="#a3163a"/>
<circle cx="347.29" cy="534.50" r="2.7" fill="#c0102e"/>
<line x1="331.74" y1="546.6999999999999" x2="410.80" y2="546.6999999999999" stroke="#a3163a" stroke-width="1.25"/>
<line x1="331.74" y1="543.4999999999999" x2="331.74" y2="549.9" stroke="#a3163a" stroke-width="1.2"/>
<path d="M413.80,546.6999999999999 L407.60,544.1999999999999 L409.00,546.6999999999999 L407.60,549.1999999999999 Z" fill="#a3163a"/>
<line x1="320.00" y1="558.9" x2="362.38" y2="558.9" stroke="#a3163a" stroke-width="1.25"/>
<line x1="320.00" y1="555.6999999999999" x2="320.00" y2="562.1" stroke="#a3163a" stroke-width="1.2"/>
<line x1="362.38" y1="555.6999999999999" x2="362.38" y2="562.1" stroke="#a3163a" stroke-width="1.2"/>
<circle cx="330.96" cy="558.90" r="2.7" fill="#c0102e"/>
<line x1="305.2" y1="575.4" x2="415" y2="575.4" stroke="#2a2a2a" stroke-width="1.2"/>
<line x1="314.20" y1="575.4" x2="314.20" y2="577.6999999999999" stroke="#2a2a2a" stroke-width="1.1"/>
<text transform="translate(314.20,588.1999999999999) scale(0.952,1)" font-size="8.4" text-anchor="middle" font-weight="normal" fill="#2a2a2a">0.0</text>
<line x1="330.50" y1="575.4" x2="330.50" y2="577.6999999999999" stroke="#2a2a2a" stroke-width="1.1"/>
<text transform="translate(330.50,588.1999999999999) scale(0.952,1)" font-size="8.4" text-anchor="middle" font-weight="normal" fill="#2a2a2a">0.5</text>
<line x1="346.80" y1="575.4" x2="346.80" y2="577.6999999999999" stroke="#2a2a2a" stroke-width="1.1"/>
<text transform="translate(346.80,588.1999999999999) scale(0.952,1)" font-size="8.4" text-anchor="middle" font-weight="normal" fill="#2a2a2a">1.0</text>
<line x1="363.10" y1="575.4" x2="363.10" y2="577.6999999999999" stroke="#2a2a2a" stroke-width="1.1"/>
<text transform="translate(363.10,588.1999999999999) scale(0.952,1)" font-size="8.4" text-anchor="middle" font-weight="normal" fill="#2a2a2a">1.5</text>
<line x1="379.40" y1="575.4" x2="379.40" y2="577.6999999999999" stroke="#2a2a2a" stroke-width="1.1"/>
<text transform="translate(379.40,588.1999999999999) scale(0.952,1)" font-size="8.4" text-anchor="middle" font-weight="normal" fill="#2a2a2a">2.0</text>
<line x1="395.70" y1="575.4" x2="395.70" y2="577.6999999999999" stroke="#2a2a2a" stroke-width="1.1"/>
<text transform="translate(395.70,588.1999999999999) scale(0.952,1)" font-size="8.4" text-anchor="middle" font-weight="normal" fill="#2a2a2a">2.5</text>
<line x1="412.00" y1="575.4" x2="412.00" y2="577.6999999999999" stroke="#2a2a2a" stroke-width="1.1"/>
<text transform="translate(412.00,588.1999999999999) scale(0.952,1)" font-size="8.4" text-anchor="middle" font-weight="normal" fill="#2a2a2a">3.0</text>
</svg>
<div class="frame"></div>
</div>
</body></html>
